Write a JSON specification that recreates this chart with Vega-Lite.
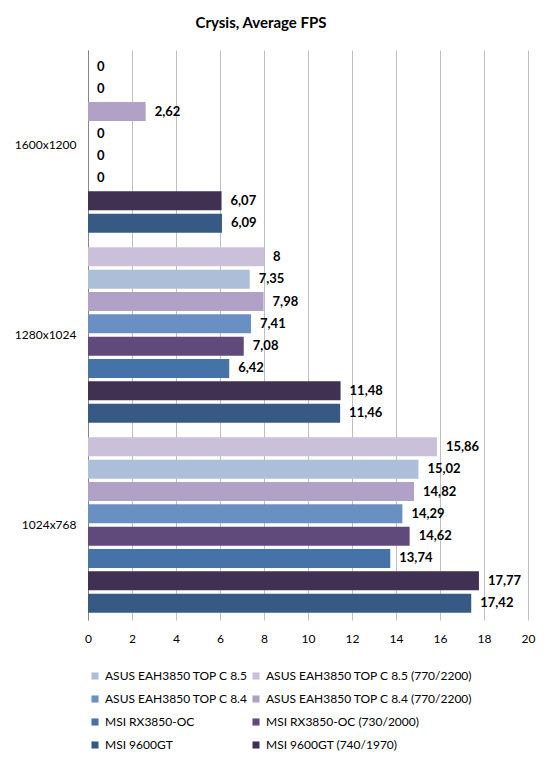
{
  "$schema": "https://vega.github.io/schema/vega-lite/v6.json",
  "width": 440,
  "height": 570,
  "autosize": {"type": "none"},
  "padding": {"left": 88, "top": 50, "right": 21, "bottom": 148},
  "background": "white",
  "title": {"text": "Crysis, Average FPS", "fontSize": 15, "font": "Lato", "fontWeight": "bold", "color": "black", "anchor": "middle", "frame": "group", "dx": -47, "offset": 19},
  "data": {"values": [
    {"res": "1600x1200", "series": "ASUS EAH3850 TOP C 8.5 (770/2200)", "value": 0},
    {"res": "1600x1200", "series": "ASUS EAH3850 TOP C 8.5", "value": 0},
    {"res": "1600x1200", "series": "ASUS EAH3850 TOP C 8.4 (770/2200)", "value": 2.62},
    {"res": "1600x1200", "series": "ASUS EAH3850 TOP C 8.4", "value": 0},
    {"res": "1600x1200", "series": "MSI RX3850-OC (730/2000)", "value": 0},
    {"res": "1600x1200", "series": "MSI RX3850-OC", "value": 0},
    {"res": "1600x1200", "series": "MSI 9600GT (740/1970)", "value": 6.07},
    {"res": "1600x1200", "series": "MSI 9600GT", "value": 6.09},
    {"res": "1280x1024", "series": "ASUS EAH3850 TOP C 8.5 (770/2200)", "value": 8},
    {"res": "1280x1024", "series": "ASUS EAH3850 TOP C 8.5", "value": 7.35},
    {"res": "1280x1024", "series": "ASUS EAH3850 TOP C 8.4 (770/2200)", "value": 7.98},
    {"res": "1280x1024", "series": "ASUS EAH3850 TOP C 8.4", "value": 7.41},
    {"res": "1280x1024", "series": "MSI RX3850-OC (730/2000)", "value": 7.08},
    {"res": "1280x1024", "series": "MSI RX3850-OC", "value": 6.42},
    {"res": "1280x1024", "series": "MSI 9600GT (740/1970)", "value": 11.48},
    {"res": "1280x1024", "series": "MSI 9600GT", "value": 11.46},
    {"res": "1024x768", "series": "ASUS EAH3850 TOP C 8.5 (770/2200)", "value": 15.86},
    {"res": "1024x768", "series": "ASUS EAH3850 TOP C 8.5", "value": 15.02},
    {"res": "1024x768", "series": "ASUS EAH3850 TOP C 8.4 (770/2200)", "value": 14.82},
    {"res": "1024x768", "series": "ASUS EAH3850 TOP C 8.4", "value": 14.29},
    {"res": "1024x768", "series": "MSI RX3850-OC (730/2000)", "value": 14.62},
    {"res": "1024x768", "series": "MSI RX3850-OC", "value": 13.74},
    {"res": "1024x768", "series": "MSI 9600GT (740/1970)", "value": 17.77},
    {"res": "1024x768", "series": "MSI 9600GT", "value": 17.42}
  ]},
  "encoding": {
    "y": {"field": "res", "type": "nominal", "sort": ["1600x1200", "1280x1024", "1024x768"], "scale": {"paddingInner": 0, "paddingOuter": 0},
      "axis": {"title": null, "ticks": false, "domainColor": "#868686", "labelFont": "Lato", "labelFontSize": 12, "labelColor": "black", "labelPadding": 12}},
    "yOffset": {"field": "series", "type": "nominal",
      "sort": ["ASUS EAH3850 TOP C 8.5 (770/2200)", "ASUS EAH3850 TOP C 8.5", "ASUS EAH3850 TOP C 8.4 (770/2200)", "ASUS EAH3850 TOP C 8.4", "MSI RX3850-OC (730/2000)", "MSI RX3850-OC", "MSI 9600GT (740/1970)", "MSI 9600GT"],
      "scale": {"paddingInner": 0.15, "paddingOuter": 0.33}},
    "x": {"field": "value", "type": "quantitative", "scale": {"domain": [0, 20]},
      "axis": {"title": null, "values": [0,2,4,6,8,10,12,14,16,18,20], "labelOverlap": false, "labelFlush": false, "grid": true, "gridColor": "#BFBFBF", "domain": false, "ticks": false, "labelFont": "Lato", "labelFontSize": 12, "labelColor": "black", "labelPadding": 13}}
  },
  "layer": [
    {"mark": {"type": "bar"},
      "encoding": {"color": {"field": "series", "type": "nominal",
        "scale": {"domain": ["ASUS EAH3850 TOP C 8.5", "ASUS EAH3850 TOP C 8.5 (770/2200)", "ASUS EAH3850 TOP C 8.4", "ASUS EAH3850 TOP C 8.4 (770/2200)", "MSI RX3850-OC", "MSI RX3850-OC (730/2000)", "MSI 9600GT", "MSI 9600GT (740/1970)"],
          "range": ["#ADBFD8", "#CBC0DA", "#6A90C3", "#B2A1C7", "#4573A7", "#604A7B", "#375A85", "#403152"]},
        "legend": {"title": null, "orient": "none", "legendX": 1, "legendY": 620, "columns": 2, "direction": "horizontal", "symbolType": "square", "symbolSize": 50, "symbolStrokeWidth": 0, "labelFont": "Lato", "labelFontSize": 12, "labelColor": "black", "columnPadding": 2, "rowPadding": 11, "labelLimit": 300}}}},
    {"mark": {"type": "text", "align": "left", "dx": 9, "font": "Lato", "fontWeight": "bold", "fontSize": 13, "color": "black"},
      "encoding": {"text": {"field": "value", "type": "quantitative", "format": ".4~r"}}}
  ],
  "config": {
    "view": {"stroke": null},
    "locale": {"number": {"decimal": ",", "thousands": " ", "grouping": [3], "currency": ["", ""]}}
  }
}
